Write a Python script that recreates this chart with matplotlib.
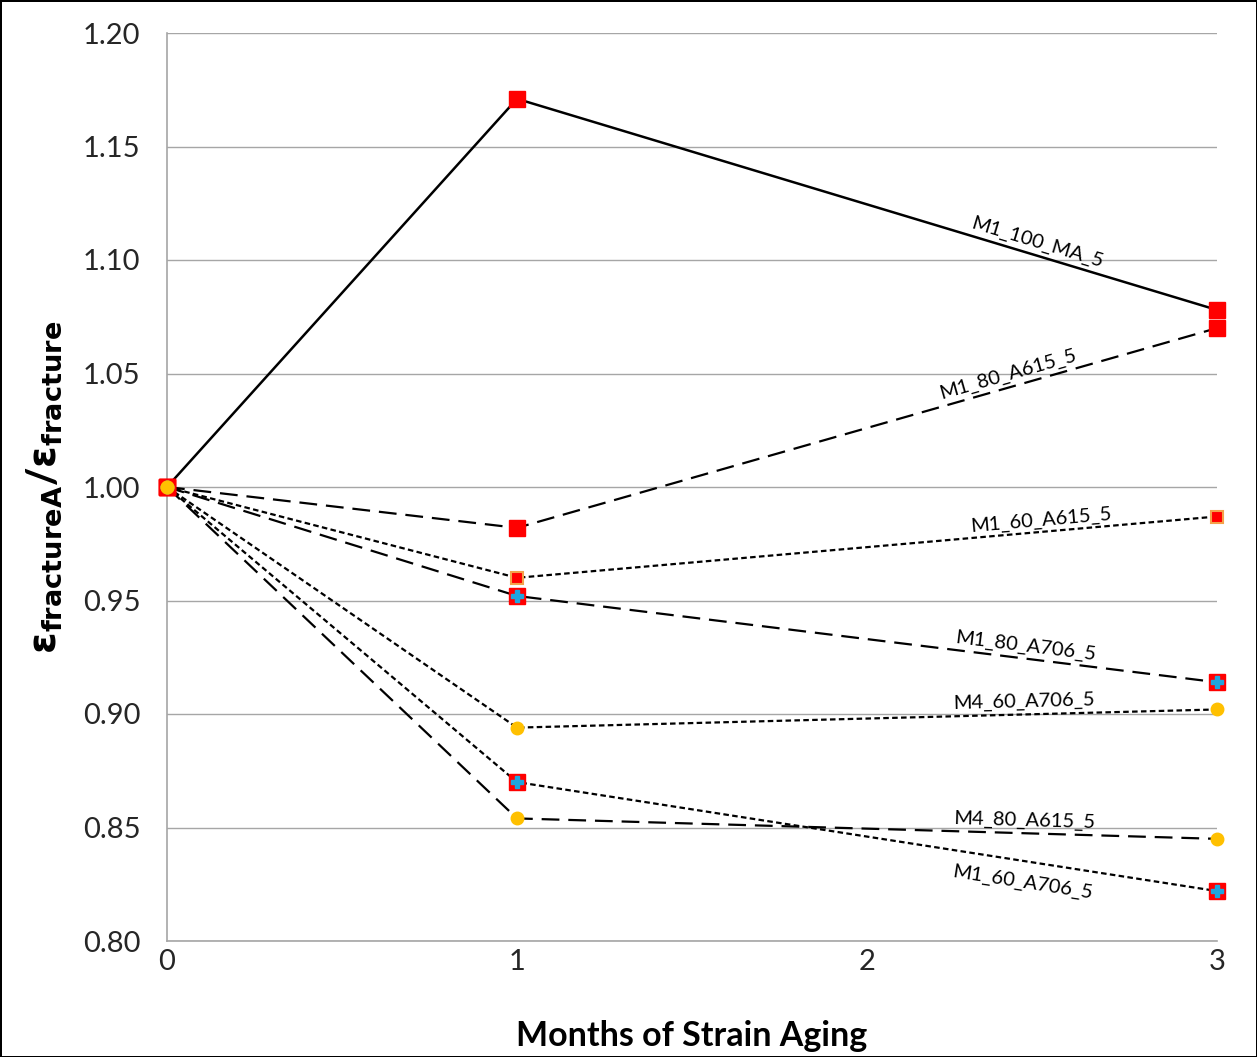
import numpy as np
import matplotlib.pyplot as plt

plt.rcParams['font.family'] = ['Lato', 'DejaVu Sans']
plt.rcParams['mathtext.fontset'] = 'dejavusans'

# Data
months = [0, 1, 3]
names = ['M1_100_MA_5', 'M1_80_A615_5', 'M1_60_A615_5', 'M1_80_A706_5',
         'M4_60_A706_5', 'M1_60_A706_5', 'M4_80_A615_5']
m1_100_ma_5 = [1.000, 1.171, 1.078]
m1_80_a615_5 = [1.000, 0.982, 1.070]
m1_60_a615_5 = [1.000, 0.960, 0.987]
m1_80_a706_5 = [1.000, 0.952, 0.914]
m4_60_a706_5 = [1.000, 0.894, 0.902]
m1_60_a706_5 = [1.000, 0.870, 0.822]
m4_80_a615_5 = [1.000, 0.854, 0.845]
values = [m1_100_ma_5, m1_80_a615_5, m1_60_a615_5, m1_80_a706_5,
          m4_60_a706_5, m1_60_a706_5, m4_80_a615_5]

long_dash = (0, (8, 4))
short_dash = (0, (2.5, 1.5))
styles = ['-', long_dash, short_dash, long_dash, short_dash, short_dash, long_dash]
markers = ['sq', 'sq', 'sq_small', 'plus', 'dot', 'plus', 'dot']

# label position (x in data units) and offset from line in points
label_x = [2.48, 2.41, 2.5, 2.45, 2.45, 2.44, 2.45]
label_dy = [3, 3, 2, 3, 3, -22, 3]

fig = plt.figure(figsize=(12.57, 10.57), dpi=100)
fig.patch.set_edgecolor('black')
fig.patch.set_linewidth(2)
ax = fig.add_axes([167 / 1257, 1 - 941 / 1057, 1050 / 1257, 908 / 1057])

for v, ls in zip(values, styles):
    lw = 1.8 if ls == '-' else 1.6
    ax.plot(months, v, color='black', linestyle=ls, linewidth=lw, zorder=2, clip_on=False)

for v, mk in zip(values, markers):
    if mk == 'sq':
        ax.plot(months, v, 's', ms=11, mfc='red', mec='red', lw=0, zorder=3, clip_on=False)
    elif mk == 'sq_small':
        ax.plot(months, v, 's', ms=8.5, mfc='red', mec='#f4a24a', mew=1.5, lw=0, zorder=3, clip_on=False)
    elif mk == 'plus':
        ax.plot(months, v, 's', ms=12, mfc='red', mec='red', lw=0, zorder=3, clip_on=False)
        ax.plot(months, v, 'P', ms=9, mfc='#1fa6e0', mec='#1fa6e0', lw=0, zorder=4, clip_on=False)
    else:
        ax.plot(months, v, 'o', ms=9, mfc='#ffc000', mec='#ffc000', lw=0, zorder=5, clip_on=False)

ax.set_xlim(0, 3)
ax.set_ylim(0.80, 1.20)
ax.set_xticks([0, 1, 2, 3])
ax.set_yticks([0.80, 0.85, 0.90, 0.95, 1.00, 1.05, 1.10, 1.15, 1.20])
ax.set_yticklabels(['%.2f' % t for t in ax.get_yticks()])
ax.tick_params(labelsize=21, length=0, pad=19, labelcolor='#262626')
ax.tick_params(axis='x', pad=6)
ax.grid(axis='y', color='#a6a6a6', linewidth=1)
for s in ['top', 'right']:
    ax.spines[s].set_visible(False)
for s in ['left', 'bottom']:
    ax.spines[s].set_color('#a6a6a6')
    ax.spines[s].set_linewidth(1.2)
ax.set_axisbelow(True)

# text labels along the lines, rotated to follow the 1 -> 3 month segment
for name, v, lx, dy in zip(names, values, label_x, label_dy):
    ly = v[1] + (v[2] - v[1]) * (lx - 1) / 2
    p1 = ax.transData.transform((1, v[1]))
    p2 = ax.transData.transform((3, v[2]))
    ang = np.degrees(np.arctan2(p2[1] - p1[1], p2[0] - p1[0]))
    ax.annotate(name, xy=(lx, ly), xytext=(0, dy), textcoords='offset points',
                ha='center', va='bottom', fontsize=14.5, rotation=ang,
                rotation_mode='anchor', zorder=6)

ax.set_xlabel('Months of Strain Aging', fontsize=24.5, fontweight='bold', labelpad=32)
ax.set_ylabel(r'$\boldsymbol{\varepsilon}_{\mathbf{fractureA}}$/$\boldsymbol{\varepsilon}_{\mathbf{fracture}}$',
              fontsize=28, fontweight='black', labelpad=14)

fig.savefig('out.png', dpi=100)
